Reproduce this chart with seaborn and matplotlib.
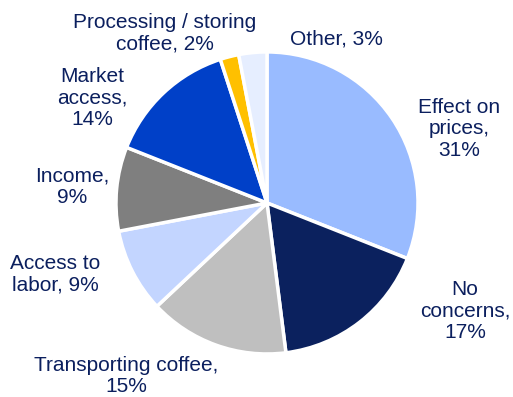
import matplotlib
matplotlib.use("Agg")
import matplotlib.pyplot as plt
import seaborn as sns

categories = ["Effect on prices", "No concerns", "Transporting coffee", "Access to labor",
              "Income", "Market access", "Processing / storing coffee", "Other"]
shares = [31, 17, 15, 9, 9, 14, 2, 3]
label_texts = ["Effect on\nprices,\n31%", "No\nconcerns,\n17%", "Transporting coffee,\n15%",
               "Access to\nlabor, 9%", "Income,\n9%", "Market\naccess,\n14%",
               "Processing / storing\ncoffee, 2%", "Other, 3%"]

sns.set_theme(style="white")
plt.rcParams["font.family"] = ["Liberation Sans", "DejaVu Sans"]

colors = ["#99BBFF", "#0B215E", "#BFBFBF", "#C3D5FF", "#7F7F7F", "#0040C8", "#FFC000", "#E6EEFF"]
text_color = "#0B1F5E"

# label anchor points (data units, pie radius = 1)
label_pos = [(1.272, 0.49), (1.311, -0.715), (-0.934, -1.146), (-1.404, -0.47),
             (-1.291, 0.106), (-1.159, 0.695), (-0.675, 1.126), (0.457, 1.086)]

fig = plt.figure(figsize=(5.13, 3.97), dpi=100)
ax = fig.add_axes([0, 0, 1, 1])
ax.pie(shares, colors=colors, startangle=90, counterclock=False, radius=1.0,
       wedgeprops=dict(edgecolor="white", linewidth=2.5))
for txt, (x, y) in zip(label_texts, label_pos):
    ax.text(x, y, txt, ha="center", va="center", fontsize=15, color=text_color,
            linespacing=1.18)
ax.set_xlim(-1.768, 1.629)
ax.set_ylim(-1.285, 1.344)
ax.set_aspect("auto")
ax.axis("off")
fig.savefig("out.png", dpi=100, facecolor="white")
